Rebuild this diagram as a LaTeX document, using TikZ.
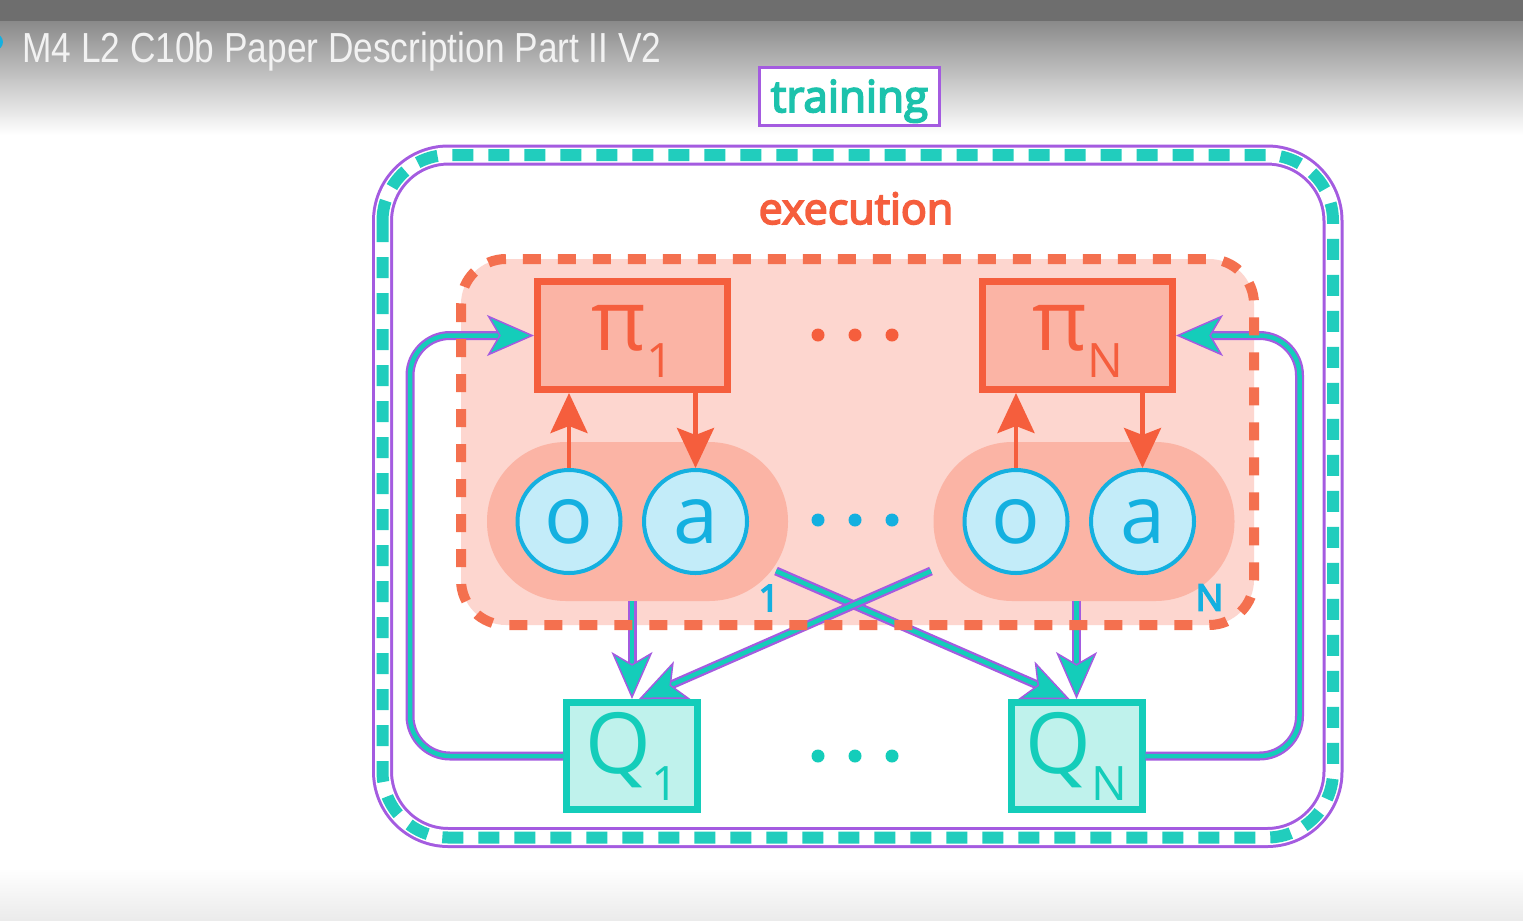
\documentclass[tikz,border=0pt]{standalone}
\usepackage{fontspec}
\setmainfont{Open Sans}
\newfontfamily\semifont[FakeBold=4]{Open Sans}
\newfontfamily\titlefont[FakeStretch=0.84]{Liberation Sans}
\usetikzlibrary{arrows.meta, positioning}
\definecolor{trainpurple}{HTML}{A45BE0}
\definecolor{trainteal}{HTML}{21CDBD}
\definecolor{trainlabeltext}{HTML}{1CC2AC}
\definecolor{policyred}{HTML}{F55E3D}
\definecolor{execdash}{HTML}{F4704F}
\definecolor{execfill}{HTML}{FDD6CF}
\definecolor{pillfill}{HTML}{FBB4A5}
\definecolor{obsblue}{HTML}{14B0E0}
\definecolor{obsfill}{HTML}{C3ECF9}
\definecolor{qteal}{HTML}{14CDBA}
\definecolor{qfill}{HTML}{BFF2EC}
\definecolor{topgray}{HTML}{6E6E6E}
\definecolor{fadegray}{HTML}{8A8A8A}
\definecolor{bottomgray}{HTML}{EBEBEB}
\definecolor{titlewhite}{HTML}{F2F2F2}
\tikzset{
  pibox/.style={rectangle, draw=policyred, line width=1.4mm, fill=pillfill,
    minimum width=38mm, minimum height=21.6mm, inner sep=0pt, text=policyred,
    text height=5.8mm, text depth=0mm},
  qbox/.style={rectangle, draw=qteal, line width=1.4mm, fill=qfill,
    minimum width=26.2mm, minimum height=21.4mm, inner sep=0pt, text=qteal,
    text height=6.8mm, text depth=0mm},
  obsnode/.style={circle, draw=obsblue, line width=0.8mm, fill=obsfill,
    minimum size=20.6mm, inner sep=0pt, text=obsblue, font=\fontsize{46}{46}\selectfont},
  pill/.style={rectangle, rounded corners=15.8mm, fill=pillfill,
    minimum width=60.2mm, minimum height=31.8mm},
  agentlabel/.style={inner sep=0pt, text=obsblue, font=\semifont\fontsize{21}{21}\selectfont},
  trainlabel/.style={rectangle, draw=trainpurple, line width=0.6mm, fill=white,
    minimum width=36mm, minimum height=11.6mm, inner sep=0pt, text=trainlabeltext,
    text height=6.4mm, text depth=0mm, font=\semifont\fontsize{25}{25}\selectfont},
  actarrow/.style={-{Stealth[length=8mm, width=7.4mm, inset=1.4mm]}, draw=policyred, line width=0.9mm},
  critarrow/.style={draw=qteal, line width=0.9mm,
    -{Stealth[length=9.4mm, width=8.2mm, inset=2.4mm, color=trainpurple, fill=qteal, line width=0.3mm]},
    preaction={draw=trainpurple, line width=1.8mm, arrows=-, shorten >=5mm}},
}
\newcommand{\bigsym}[2]{{\fontsize{48}{48}\selectfont #1}\raisebox{-5.4mm}{\fontsize{27}{27}\selectfont #2}}

\begin{document}
\begin{tikzpicture}[x=0.2mm, y=-0.2mm]
  \useasboundingbox (0,0) rectangle (1523,920);
  % backdrop and player title bar
  \fill[white] (0,0) rectangle (1523,920);
  \shade[top color=fadegray, bottom color=white] (0,21) rectangle (1523,135);
  \fill[topgray] (0,0) rectangle (1523,21);
  \shade[top color=white, bottom color=bottomgray] (0,868) rectangle (1523,920);
  \fill[obsblue] (-5,42) circle (8);
  \node[anchor=base west, inner sep=0pt, text=titlewhite,
    font=\titlefont\fontsize{23.9}{24}\selectfont] (title) at (22,62) {M4 L2 C10b Paper Description Part II V2};

  % training frame
  \node[trainlabel] (trainbox) at (849.5,96) {training};
  \draw[trainpurple, line width=0.6mm, double=white, double distance=3mm, rounded corners=13.2mm]
    (382.5,155) rectangle (1333,837.5);
  \draw[trainteal, line width=2.4mm, dash pattern=on 4.2mm off 3mm, rounded corners=13.2mm]
    (382.5,155) rectangle (1333,837.5);

  % execution area
  \node[anchor=base, inner sep=0pt, text=policyred, font=\semifont\fontsize{24.5}{24}\selectfont]
    (exectitle) at (856,224) {execution};
  \fill[execfill, rounded corners=9mm] (461,259) rectangle (1254,625);

  \node[pill] (pill1) at (637.5,521.5) {};
  \node[pill] (pillN) at (1084,521.5) {};
  \node[pibox] (pi1) at (632.5,335.5) {\bigsym{π}{1}};
  \node[pibox] (piN) at (1077.5,335.5) {\bigsym{π}{N}};
  \node[obsnode] (o1) at (569,521.5) {o};
  \node[obsnode, right=3.9mm of o1] (a1) {a};
  \node[obsnode] (oN) at (1016,521.5) {o};
  \node[obsnode, right=3.9mm of oN] (aN) {a};
  \node[agentlabel] (lbl1) at (769,598) {1};
  \node[agentlabel] (lblN) at (1209.5,597.5) {N};

  \draw[actarrow] (o1.north) -- (o1.north |- pi1.south);
  \draw[actarrow] (pi1.south -| a1.north) -- (a1.north);
  \draw[actarrow] (oN.north) -- (oN.north |- piN.south);
  \draw[actarrow] (piN.south -| aN.north) -- (aN.north);

  \foreach \dx in {-37,0,37} {
    \fill[policyred] (855+\dx,335) circle (6.5);
    \fill[obsblue] (855+\dx,520) circle (6.5);
    \fill[qteal] (855+\dx,756) circle (6.5);
  }

  % critics
  \node[qbox] (Q1) at (632,756) {\bigsym{Q}{1}};
  \node[qbox] (QN) at (1076.5,756) {\bigsym{Q}{N}};

  \coordinate (cross1) at (776,571);
  \coordinate (crossN) at (931,571);
  \draw[critarrow] (pill1.south -| Q1.north) -- (Q1.north);
  \draw[critarrow] (pillN.south -| QN.north) -- (QN.north);
  \draw[critarrow] (cross1) -- (QN.97);
  \draw[critarrow] (crossN) -- (Q1.83);
  \draw[critarrow, rounded corners=8mm] (Q1.west) -- ++(-153,0) |- (pi1.west);
  \draw[critarrow, rounded corners=8mm] (QN.east) -- ++(154,0) |- (piN.east);

  \draw[execdash, line width=2mm, dash pattern=on 3.6mm off 3.4mm, rounded corners=9mm]
    (461,259) rectangle (1254,625);
\end{tikzpicture}
\end{document}
